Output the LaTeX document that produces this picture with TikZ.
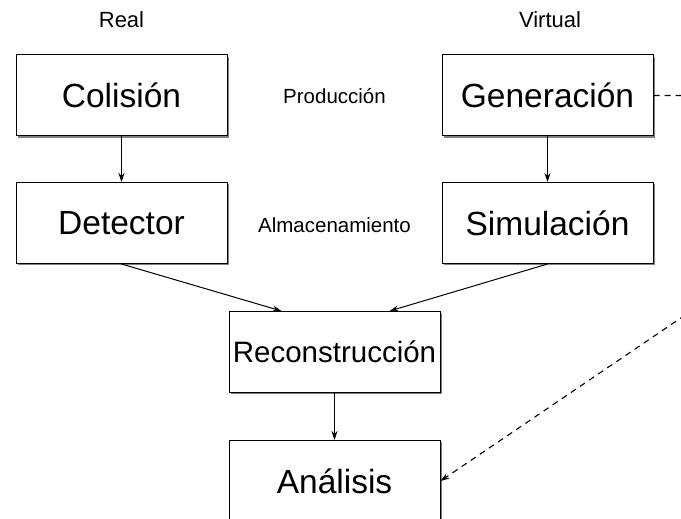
\documentclass[tikz,border=0pt]{standalone}
\usepackage{fontspec}
\setmainfont{Liberation Sans}
\usetikzlibrary{arrows.meta,calc,positioning,shadows}

\begin{document}
\begin{tikzpicture}[
    x=1pt,y=-1pt,
    stagebox/.style={draw=black,line width=1pt,fill=white,
      minimum width=211pt,minimum height=81pt,inner sep=0pt,
      font=\fontsize{33.5}{40}\selectfont,
      drop shadow={shadow xshift=1.6pt,shadow yshift=-1.6pt,fill=black!50,opacity=1}},
    sidelabel/.style={font=\fontsize{22}{26}\selectfont,inner sep=0pt},
    midlabel/.style={font=\fontsize{20.5}{24}\selectfont,inner sep=0pt},
    arrow/.style={-{Stealth[length=9pt,width=6pt,inset=3pt]},line width=1pt},
    feedback/.style={arrow,line width=1.1pt,dash pattern=on 6pt off 5pt},
    node distance=45.5pt and 214pt
  ]
    \useasboundingbox (0,0) rectangle (681,519);
    \clip (0,0) rectangle (681,519);

    \node[stagebox] (colision) at (121.5,95.5) {Colisión};
    \node[stagebox,right=of colision] (generacion) {Generación};
    \node[stagebox,below=of colision] (detector) {Detector};
    \node[stagebox,below=of generacion] (simulacion) {Simulación};

    \coordinate (juntura) at ($(detector.south)!0.5!(simulacion.south)$);
    \node[stagebox,below=47pt of juntura,font=\fontsize{29.5}{35}\selectfont] (reco) {Reconstrucción};
    \node[stagebox,below=47pt of reco] (analisis) {Análisis};

    \node[sidelabel,anchor=base] (real) at ([yshift=26.7pt]colision.north) {Real};
    \node[sidelabel,anchor=base] (virtual) at ([xshift=2.5pt,yshift=26.7pt]generacion.north) {Virtual};
    \node[midlabel,anchor=base] (produccion) at ($(colision.center)!0.5!(generacion.center)+(0,7.8)$) {Producción};
    \node[midlabel,anchor=base] (almacen) at ($(detector.center)!0.5!(simulacion.center)+(0,9.7)$) {Almacenamiento};

    \draw[arrow] (colision) -- (detector);
    \draw[arrow] (generacion) -- (simulacion);
    \draw[arrow] (detector.south) -- ($(reco.north west)!0.25!(reco.north east)$);
    \draw[arrow] (simulacion.south) -- ($(reco.north west)!0.76!(reco.north east)$);
    \draw[arrow] (reco) -- (analisis);

    \coordinate (vuelta1) at ([xshift=47.5pt]generacion.east);
    \coordinate (vuelta2) at (700,305);
    \draw[feedback] (generacion.east) -- (vuelta1) -- (vuelta2) -- (analisis.east);
  \end{tikzpicture}
\end{document}
